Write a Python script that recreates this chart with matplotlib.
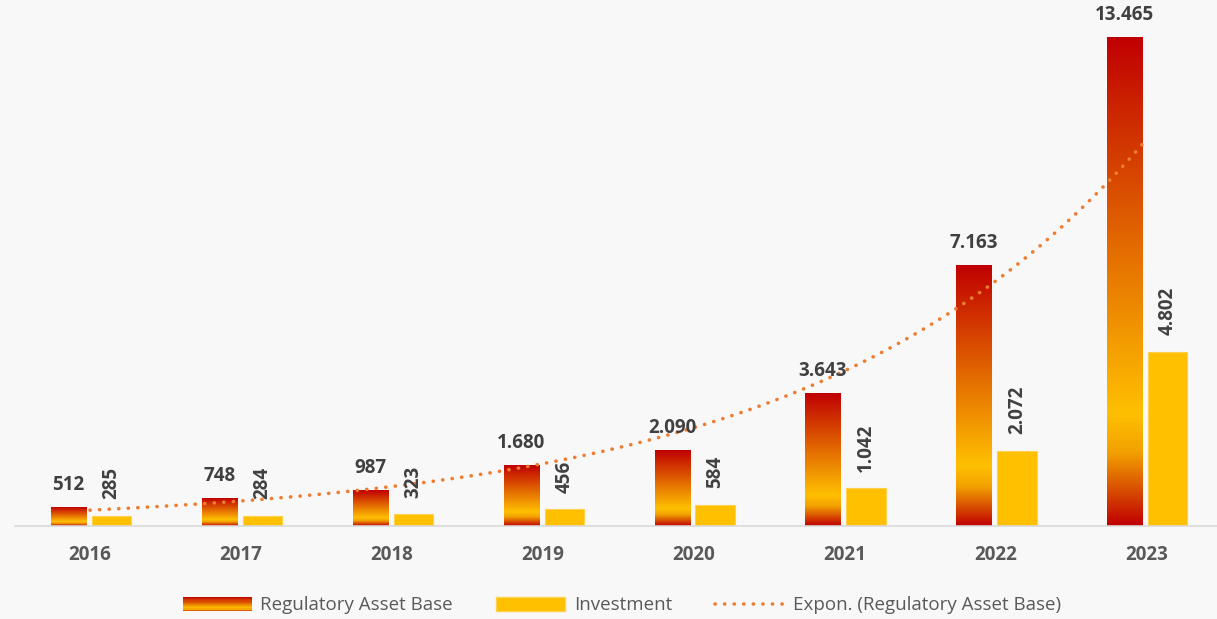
import numpy as np
import matplotlib.pyplot as plt
from matplotlib.colors import LinearSegmentedColormap
from matplotlib.patches import Rectangle
from matplotlib.legend_handler import HandlerBase
from matplotlib.lines import Line2D

years = ["2016", "2017", "2018", "2019", "2020", "2021", "2022", "2023"]
rab = [512, 748, 987, 1680, 2090, 3643, 7163, 13465]
investment = [285, 284, 323, 456, 584, 1042, 2072, 4802]

plt.rcParams['font.family'] = ['Open Sans', 'DejaVu Sans']

grad_cmap = LinearSegmentedColormap.from_list(
    "rab", [(0, "#C00000"), (0.15, "#F2A100"), (0.23, "#FFC000"), (1, "#C00000")])


def fmt(v):
    return f"{v:,}".replace(",", ".")


class HandlerGradient(HandlerBase):
    def create_artists(self, legend, orig_handle, xdescent, ydescent, width, height, fontsize, trans):
        n = 12
        arts = []
        for i in range(n):
            c = grad_cmap(0.05 + 0.95 * (i + 0.5) / n)
            arts.append(Rectangle((-xdescent, -ydescent + height * i / n), width, height / n + 0.3,
                                  facecolor=c, edgecolor='none', transform=trans))
        return arts


fig = plt.figure(figsize=(12.17, 6.19), dpi=100, facecolor="#f8f8f8")
ax = fig.add_axes([15 / 1217, 93 / 619, 1202 / 1217, 526 / 619])
ax.set_facecolor("#f8f8f8")

x = np.arange(len(years))
w_rab, w_inv, off = 0.232, 0.26, 0.1425
grad = np.linspace(0, 1, 256).reshape(-1, 1)

for xi, v in zip(x, rab):
    ax.imshow(grad, extent=[xi - off - w_rab / 2, xi - off + w_rab / 2, 0, v],
              origin='lower', aspect='auto', cmap=grad_cmap, zorder=2)
    ax.annotate(fmt(v), (xi - off, v), xytext=(0, 9), textcoords='offset points',
                ha='center', va='bottom', fontsize=13.5, fontweight='bold', color='#404040', zorder=5)

ax.bar(x + off, investment, width=w_inv, color="#FFC000", edgecolor="#FFD24D", linewidth=0.8, zorder=2)
for xi, v in zip(x, investment):
    ax.annotate(fmt(v), (xi + off, v), xytext=(0, 12), textcoords='offset points',
                ha='center', va='bottom', rotation=90, fontsize=13.5, fontweight='bold',
                color='#404040', zorder=5)

# exponential trendline (fit in log space)
xs = x + 1
b, a = np.polyfit(xs, np.log(rab), 1)
xt = np.linspace(xs[0], xs[-1], 200)
ax.plot(xt - 1, np.exp(a + b * xt), color="#ED7D31", lw=2.6,
        linestyle=(0, (0.05, 2.6)), dash_capstyle='round', zorder=4)

ax.set_xlim((15 - 90) / 150.9, (1217 - 90) / 150.9)
ax.set_ylim(0, 14490)
ax.set_xticks(x)
ax.set_xticklabels(years, fontsize=13.5, fontweight='bold', color='#595959')
ax.tick_params(axis='x', length=0, pad=14)
ax.set_yticks([])
for s in ['top', 'right', 'left']:
    ax.spines[s].set_visible(False)
ax.spines['bottom'].set_color('#d9d9d9')
ax.spines['bottom'].set_linewidth(1.2)

h_rab = Rectangle((0, 0), 1, 1)
h_inv = Rectangle((0, 0), 1, 1, facecolor="#FFC000", edgecolor="#FFD24D")
h_exp = Line2D([0], [0], color="#ED7D31", lw=2.6, linestyle=(0, (0.05, 2.6)), dash_capstyle='round')
leg = fig.legend([h_rab, h_inv, h_exp],
                 ["Regulatory Asset Base", "Investment", "Expon. (Regulatory Asset Base)"],
                 handler_map={h_rab: HandlerGradient()},
                 loc='center', bbox_to_anchor=(0.511, 0.022), ncol=3, frameon=False,
                 fontsize=13.5, handlelength=3.7, handleheight=0.75, columnspacing=2.3, handletextpad=0.45)
for t in leg.get_texts():
    t.set_color('#595959')

fig.savefig("out.png", dpi=100, facecolor=fig.get_facecolor())
